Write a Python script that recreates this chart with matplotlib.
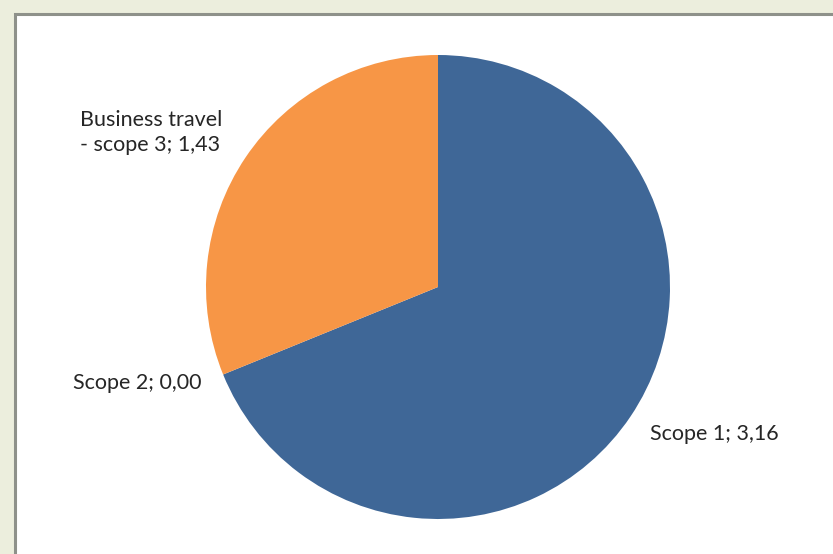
import numpy as np
import matplotlib.pyplot as plt
from matplotlib.patches import Rectangle

labels = ['Scope 1', 'Scope 2', 'Business travel\n- scope 3']
values = [3.16, 0.00, 1.43]
colors = ['#3F6797', '#C0504D', '#F79646']

W, H = 833, 554
fig = plt.figure(figsize=(W / 100, H / 100), dpi=100)
fig.patch.set_facecolor('#ECEEDD')

# white chart area with grey frame (runs off the right/bottom edge)
fig.patches.append(Rectangle((14.5 / W, -0.1), 1.2, 1 - 13.5 / H + 0.1,
                             transform=fig.transFigure, facecolor='white',
                             edgecolor='#8E918A', linewidth=2.2, zorder=-10))

cx, cy, r = 438, 287, 232
ax = fig.add_axes([(cx - r) / W, (H - cy - r) / H, 2 * r / W, 2 * r / H])
ax.set_zorder(5)
wedges, _ = ax.pie(values, colors=colors, startangle=90, counterclock=False,
                   radius=1, wedgeprops=dict(linewidth=0))
ax.set_xlim(-1, 1)
ax.set_ylim(-1, 1)
ax.set_aspect('equal')
ax.axis('off')

# small nudges (pixels) like Excel's best-fit placement
nudges = [(0, -5), (0, 0), (-4, 12)]

for w, lab, v, nd in zip(wedges, labels, values, nudges):
    if v > 0:
        ang = np.deg2rad((w.theta1 + w.theta2) / 2)
    else:
        ang = np.deg2rad(w.theta1)
    x, y = 1.1 * np.cos(ang), 1.1 * np.sin(ang)
    ha = 'left' if x > 0 else 'right'
    txt = f"{lab}; {v:.2f}".replace('.', ',')
    ax.annotate(txt, (x, y), xytext=nd, textcoords='offset pixels',
                ha=ha, va='center', multialignment='left',
                fontsize=15.5, family='Lato', color='#262626', linespacing=1.3,
                annotation_clip=False)

fig.savefig('out.png', dpi=100, facecolor=fig.get_facecolor())
